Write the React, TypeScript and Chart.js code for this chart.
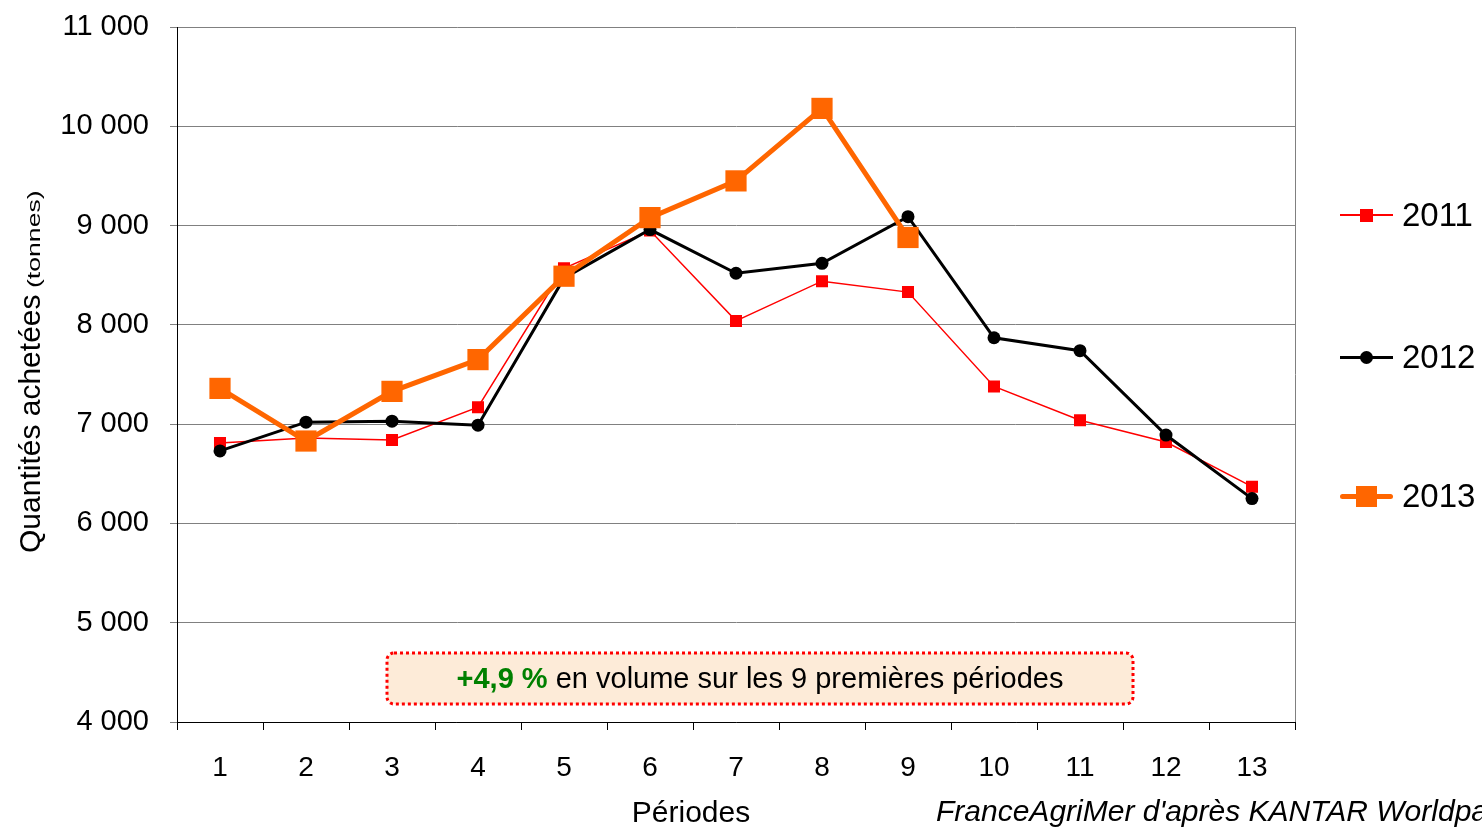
import React, { useEffect, useRef } from "react";
import { Chart, registerables } from "chart.js";

Chart.register(...registerables);

const periods = ["1", "2", "3", "4", "5", "6", "7", "8", "9", "10", "11", "12", "13"];
const values2011 = [6810, 6860, 6840, 7170, 8570, 8950, 8040, 8440, 8330, 7380, 7040, 6820, 6370];
const values2012 = [6730, 7020, 7030, 6990, 8470, 8960, 8520, 8620, 9090, 7870, 7740, 6890, 6250];
const values2013 = [7360, 6830, 7330, 7650, 8490, 9080, 9450, 10180, 8880, null, null, null, null];
const seriesNames = ["2011", "2012", "2013"];
const seriesColors = ["#ff0000", "#000000", "#ff6600"];
const yMin = 4000;
const yMax = 11000;
const yStep = 1000;

const FONT = "'Liberation Sans', Arial, sans-serif";

const extrasPlugin = {
  id: "extras",
  afterDraw(chart: any) {
    const { ctx, chartArea } = chart;
    ctx.save();
    // right border of plot area
    ctx.strokeStyle = "#808080";
    ctx.lineWidth = 1;
    ctx.beginPath();
    ctx.moveTo(chartArea.right + 0.5, chartArea.top);
    ctx.lineTo(chartArea.right + 0.5, chartArea.bottom);
    ctx.stroke();

    // annotation box
    ctx.fillStyle = "#fdebd8";
    ctx.beginPath();
    (ctx as any).roundRect(387, 653, 746, 51, 7);
    ctx.fill();
    ctx.setLineDash([3, 3]);
    ctx.lineWidth = 3;
    ctx.strokeStyle = "#ff0000";
    ctx.stroke();
    ctx.setLineDash([]);

    // y-axis title
    ctx.fillStyle = "#000";
    ctx.translate(40, 553);
    ctx.rotate(-Math.PI / 2);
    ctx.font = "30px " + FONT;
    ctx.textBaseline = "alphabetic";
    ctx.textAlign = "left";
    ctx.fillText("Quantités achetées", 0, 0);
    ctx.translate(265, 0);
    ctx.scale(1.4, 1);
    ctx.font = "19px " + FONT;
    ctx.fillText("(tonnes)", 0, 0);
    ctx.restore();

    ctx.save();
    ctx.fillStyle = "#000";
    ctx.textBaseline = "alphabetic";
    ctx.textAlign = "center";
    ctx.font = "30px " + FONT;
    ctx.fillText("Périodes", 691, 822);
    ctx.textAlign = "left";
    ctx.font = "italic 30px " + FONT;
    ctx.fillText("FranceAgriMer d'après KANTAR Worldpanel", 936, 821);
    ctx.restore();
  },
};

function LegendItem({ idx, top }: { idx: number; top: number }) {
  const color = seriesColors[idx];
  const lineH = idx === 0 ? 2 : idx === 1 ? 3 : 5;
  const marker =
    idx === 0 ? (
      <div style={{ position: "absolute", left: 20, top: -6.5, width: 13, height: 13, background: color }} />
    ) : idx === 1 ? (
      <div style={{ position: "absolute", left: 20, top: -6.5, width: 13, height: 13, background: color, borderRadius: "50%" }} />
    ) : (
      <div style={{ position: "absolute", left: 16, top: -10.5, width: 21, height: 21, background: color }} />
    );
  return (
    <div style={{ position: "absolute", left: 1340, top, width: 142, height: 0 }}>
      <div
        style={{
          position: "absolute",
          left: 0,
          top: -lineH / 2,
          width: 53,
          height: lineH,
          background: color,
          borderRadius: idx === 2 ? 3 : 0,
        }}
      />
      {marker}
      <span
        style={{
          position: "absolute",
          left: 62,
          top: -19,
          font: "33px " + FONT,
          lineHeight: "38px",
          color: "#000",
          whiteSpace: "nowrap",
        }}
      >
        {seriesNames[idx]}
      </span>
    </div>
  );
}

export default function App() {
  const canvasRef = useRef<HTMLCanvasElement | null>(null);

  useEffect(() => {
    document.body.style.margin = "0";
    const canvas = canvasRef.current!;
    const chart = new Chart(canvas, {
      type: "line",
      data: {
        labels: periods,
        datasets: [
          {
            label: seriesNames[0],
            data: values2011,
            borderColor: seriesColors[0],
            backgroundColor: seriesColors[0],
            borderWidth: 1.5,
            pointStyle: "rect",
            pointRadius: 8.5,
            pointBorderWidth: 0,
            order: 2,
          },
          {
            label: seriesNames[1],
            data: values2012,
            borderColor: seriesColors[1],
            backgroundColor: seriesColors[1],
            borderWidth: 3,
            pointStyle: "circle",
            pointRadius: 6.5,
            pointBorderWidth: 0,
            order: 1,
          },
          {
            label: seriesNames[2],
            data: values2013,
            borderColor: seriesColors[2],
            backgroundColor: seriesColors[2],
            borderWidth: 5,
            pointStyle: "rect",
            pointRadius: 15,
            pointBorderWidth: 0,
            order: 0,
          },
        ],
      },
      options: {
        animation: false,
        responsive: false,
        devicePixelRatio: 1,
        layout: { padding: { top: 27, right: 187, bottom: 0, left: 0 } },
        plugins: {
          legend: { display: false },
          tooltip: { enabled: false },
          title: { display: false },
        },
        elements: { line: { tension: 0 } },
        scales: {
          x: {
            type: "category",
            offset: true,
            grid: {
              offset: true,
              drawOnChartArea: false,
              tickLength: 8,
              color: "#000",
            },
            border: { color: "#000", width: 1 },
            ticks: {
              color: "#000",
              font: { family: FONT, size: 28 },
              padding: 21,
              maxRotation: 0,
            },
            afterFit: (scale: any) => {
              scale.height = 107;
              scale.paddingLeft = 0;
              scale.paddingRight = 0;
            },
          },
          y: {
            min: yMin,
            max: yMax,
            grid: {
              color: "#808080",
              lineWidth: 1,
              tickLength: 7,
            },
            border: { color: "#000", width: 1 },
            ticks: {
              stepSize: yStep,
              color: "#000",
              font: { family: FONT, size: 29 },
              padding: 21,
              callback: (v: any) => {
                const n = Number(v);
                const th = Math.floor(n / 1000);
                return th + " 000";
              },
            },
            afterFit: (scale: any) => {
              scale.width = 177;
              scale.paddingTop = 0;
              scale.paddingBottom = 0;
            },
          },
        },
      },
      plugins: [extrasPlugin],
    });
    return () => chart.destroy();
  }, []);

  return (
    <div
      style={{
        position: "absolute",
        left: 0,
        top: 0,
        width: 1482,
        height: 829,
        overflow: "hidden",
        background: "#fff",
      }}
    >
      <canvas ref={canvasRef} width={1482} height={829} style={{ display: "block", width: 1482, height: 829 }} />
      <LegendItem idx={0} top={215} />
      <LegendItem idx={1} top={357} />
      <LegendItem idx={2} top={496} />
      <div
        style={{
          position: "absolute",
          left: 387,
          top: 653,
          width: 746,
          height: 51,
          display: "flex",
          alignItems: "center",
          justifyContent: "center",
          font: "29px " + FONT,
          color: "#000",
          whiteSpace: "nowrap",
        }}
      >
        <span style={{ color: "#008000", fontWeight: "bold" }}>+4,9 %</span>
        <span>&nbsp;en volume sur les 9 premières périodes</span>
      </div>
    </div>
  );
}
